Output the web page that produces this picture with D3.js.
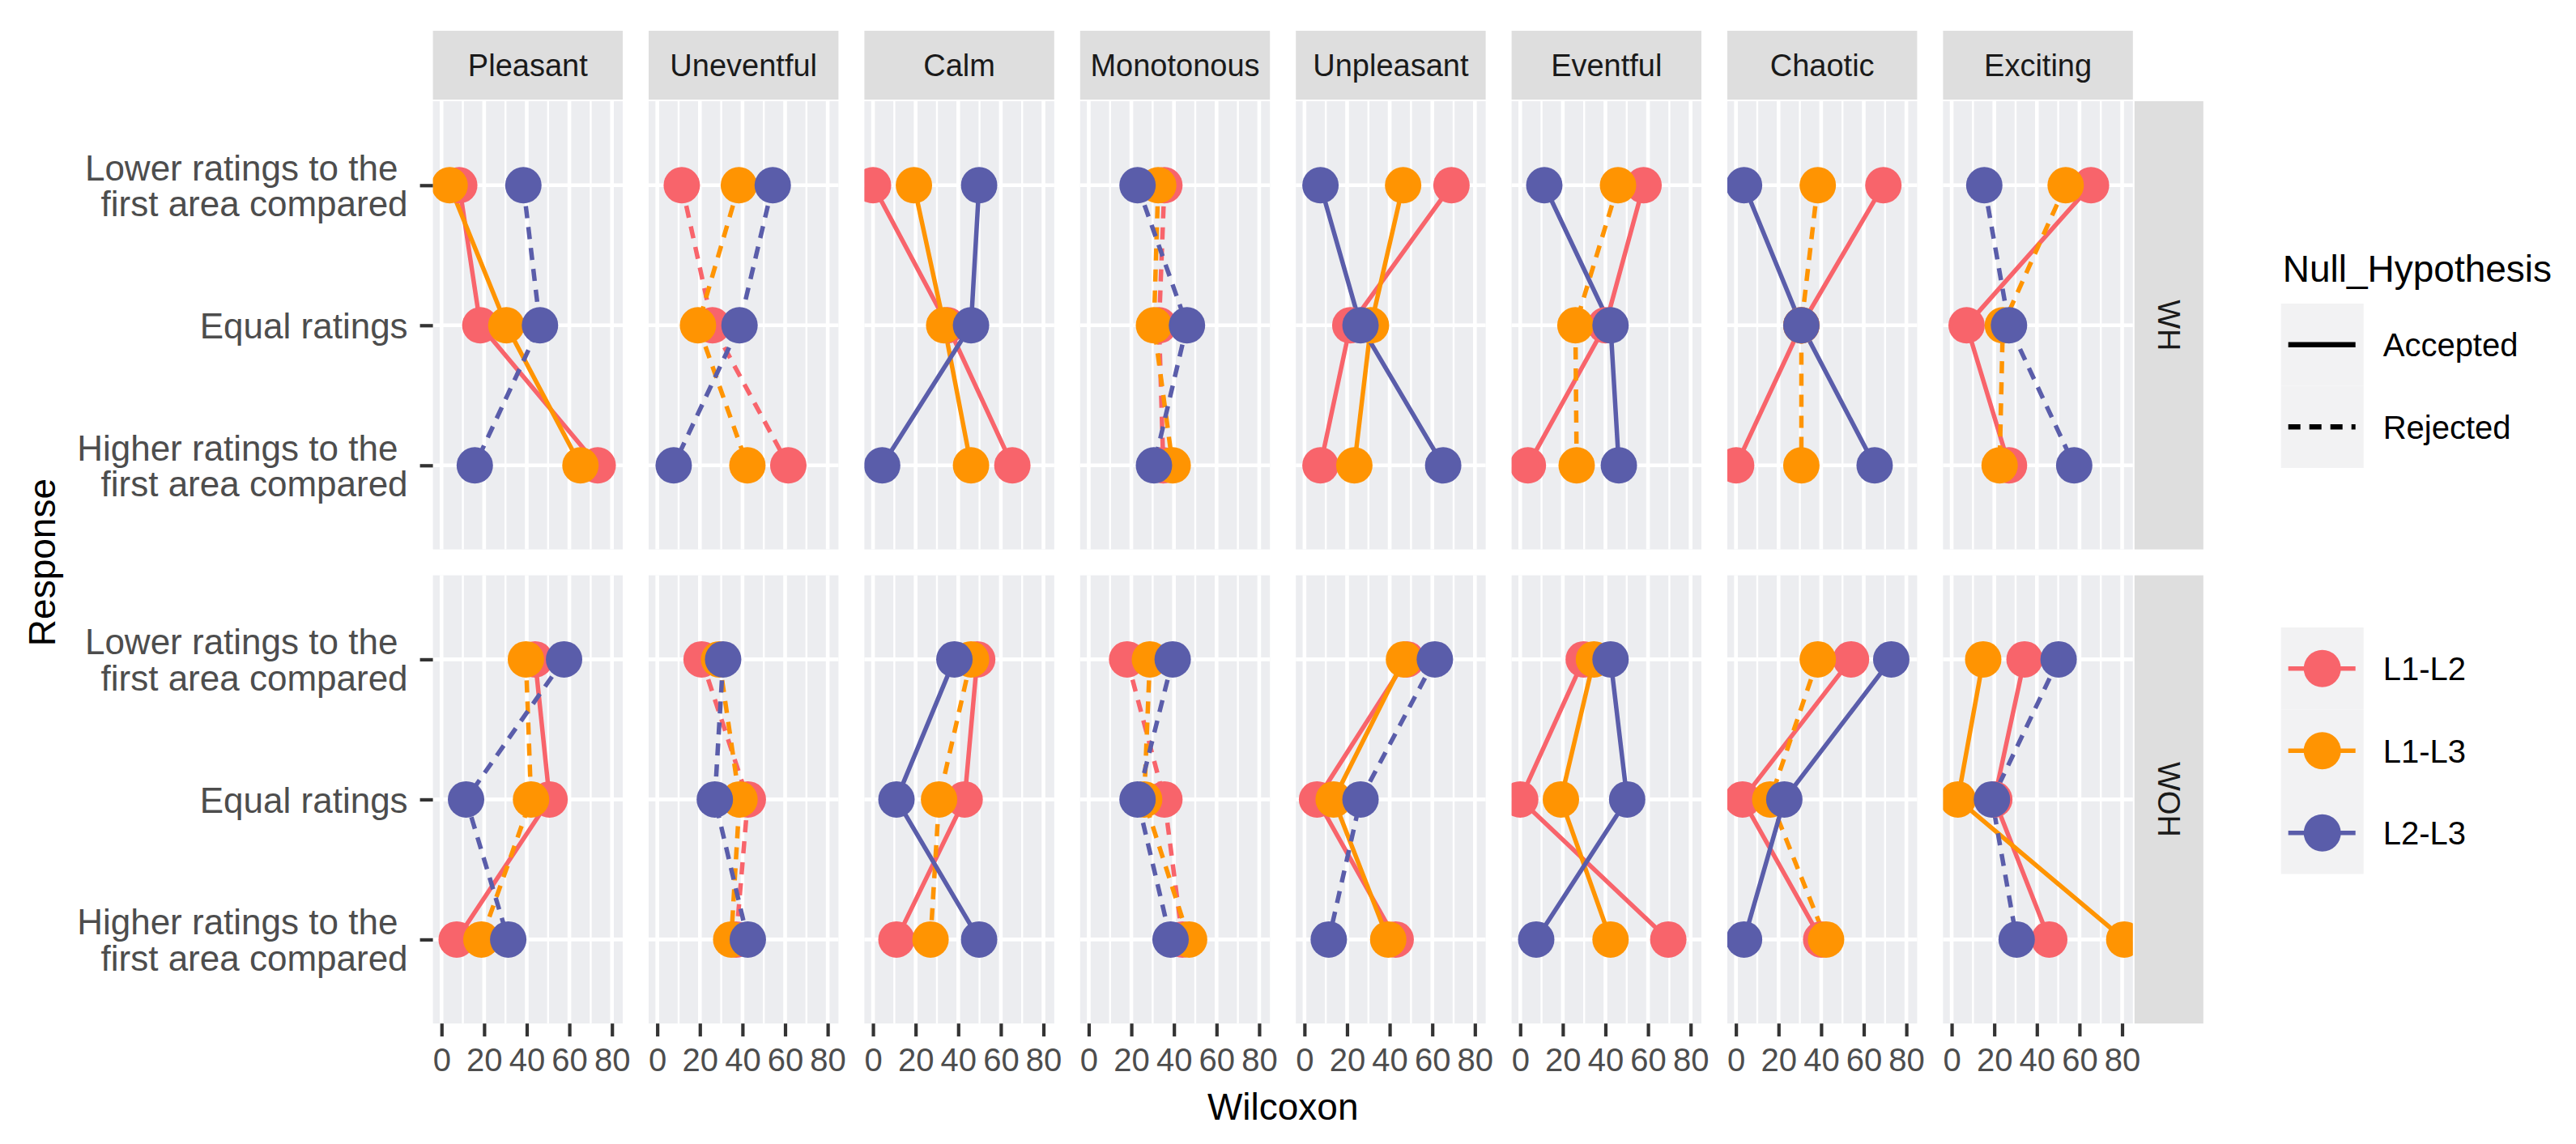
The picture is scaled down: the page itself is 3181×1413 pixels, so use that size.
<!DOCTYPE html>
<html>
<head>
<meta charset="utf-8">
<script src="https://cdn.jsdelivr.net/npm/d3@7"></script>
<style>
  html, body { margin: 0; padding: 0; background: #ffffff; }
  svg { display: block; font-family: "Liberation Sans", Arial, Helvetica, sans-serif; }
</style>
</head>
<body>
<script>
// ---------------- DATA ----------------
const attributes = ["Pleasant","Uneventful","Calm","Monotonous","Unpleasant","Eventful","Chaotic","Exciting"];
const conditions = ["WH","WOH"];
const responses = ["Lower ratings to the\u00A0\nfirst area compared","Equal ratings","Higher ratings to the\u00A0\nfirst area compared"];
const pairs = ["L1-L2","L1-L3","L2-L3"];
const hypotheses = ["Accepted","Rejected"];
const xTicks = [0,20,40,60,80];
const xDataRange = [0,81];

// Wilcoxon values per attribute: [Lower, Equal, Higher]
const whL1L2 = [[8.3,18.2,73.3],[11.5,25.9,61.5],[0,35,65.4],[35.5,33,35],[69,21.5,7.5],[57.9,40,3.6],[69.2,30.7,0.1],[65.4,7,26.9]];
const whL1L3 = [[3.8,30.4,65.2],[38.3,19.1,42.3],[19.2,33.4,46],[32.6,30.6,39.4],[46.3,31.2,23.4],[45.9,25.9,26.5],[38.4,30.7,30.7],[53.5,24,22.5]];
const whL2L3 = [[38.4,46.2,15.6],[54.2,38.6,7.7],[49.8,46,4.3],[22.9,46.1,30.6],[7.5,26.3,65.1],[11.3,42.4,46.3],[3.8,30.7,65.1],[15.3,26.9,57.5]];
const wohL1L2 = [[43.9,50.7,7.1],[20.8,42.5,37],[48.9,43,11],[18,35.5,44],[48,5.9,42.8],[29.8,0,69.5],[54,3.1,40],[34.2,20,45.8]];
const wohL1L3 = [[39.6,42,18.7],[29,38.6,34.7],[46,31,27],[28.7,26,47.1],[46.7,13.7,39.3],[34.6,19.1,42.4],[38.4,16.1,42.3],[14.8,2.9,81]];
const wohL2L3 = [[57.5,11.5,31.3],[30.9,27,42.5],[38.2,11,49.8],[39.4,22.9,38.4],[61.2,26.3,11.4],[42.4,50.2,7.5],[72.9,22.7,3.8],[50.2,18.9,30.5]];

// Null hypothesis per attribute (A = Accepted, R = Rejected)
const whL1L2Hyp = ["A","R","A","R","A","A","A","A"];
const whL1L3Hyp = ["A","R","A","R","A","R","R","R"];
const whL2L3Hyp = ["R","R","A","R","A","A","A","R"];
const wohL1L2Hyp = ["A","R","A","R","A","A","A","A"];
const wohL1L3Hyp = ["R","R","R","R","A","A","R","A"];
const wohL2L3Hyp = ["R","R","A","R","R","A","A","R"];

// ---------------- BUILD TABLE ----------------
const valueSets = { WH: [whL1L2, whL1L3, whL2L3], WOH: [wohL1L2, wohL1L3, wohL2L3] };
const hypSets = { WH: [whL1L2Hyp, whL1L3Hyp, whL2L3Hyp], WOH: [wohL1L2Hyp, wohL1L3Hyp, wohL2L3Hyp] };
const series = [];
conditions.forEach(cond => {
  attributes.forEach((attr, ai) => {
    pairs.forEach((pair, pi) => {
      const vals = valueSets[cond][pi][ai];
      series.push({
        cond, attr, pair,
        hyp: hypSets[cond][pi][ai] === "A" ? "Accepted" : "Rejected",
        points: responses.map((r, ri) => ({ response: r, value: vals[ri] }))
      });
    });
  });
});

// ---------------- LAYOUT / STYLE ----------------
const width = 3181, height = 1413;
const panelW = 234.4, panelH = 553.6, gap = 32;
const left0 = 534.6, top0 = 125;
const stripH = 85, stripGap = 2;
const colors = d3.scaleOrdinal().domain(pairs).range(["#F8646B", "#FF9402", "#5A5DAA"]);
const dash = d3.scaleOrdinal().domain(hypotheses).range(["none", "15,11"]);
const lineW = 5.5, pointR = 22.5;
const panelBg = "#ECEDF0", stripBg = "#DEDEDE";

const svg = d3.select("body").append("svg").attr("width", width).attr("height", height);
svg.append("rect").attr("width", width).attr("height", height).attr("fill", "#ffffff");

const pad = (xDataRange[1] - xDataRange[0]) * 0.05;
const x = d3.scaleLinear().domain([xDataRange[0] - pad, xDataRange[1] + pad]).range([0, panelW]);
const y = d3.scalePoint().domain(responses).range([0, panelH]).padding(0.6);
const minorTicks = d3.pairs(xTicks).map(([a, b]) => (a + b) / 2);

const line = d3.line().x(d => x(d.value)).y(d => y(d.response));

conditions.forEach((cond, ci) => {
  const py = top0 + ci * (panelH + gap);
  attributes.forEach((attr, ai) => {
    const px = left0 + ai * (panelW + gap);
    const g = svg.append("g").attr("transform", `translate(${px},${py})`);
    const clipId = `clip-${ci}-${ai}`;
    g.append("clipPath").attr("id", clipId).append("rect").attr("width", panelW).attr("height", panelH);
    g.append("rect").attr("width", panelW).attr("height", panelH).attr("fill", panelBg);
    // grid
    g.selectAll(".minor").data(minorTicks).join("line")
      .attr("x1", d => x(d)).attr("x2", d => x(d)).attr("y1", 0).attr("y2", panelH)
      .attr("stroke", "#ffffff").attr("stroke-width", 2.4);
    g.selectAll(".major").data(xTicks).join("line")
      .attr("x1", d => x(d)).attr("x2", d => x(d)).attr("y1", 0).attr("y2", panelH)
      .attr("stroke", "#ffffff").attr("stroke-width", 4.6);
    g.selectAll(".hmajor").data(responses).join("line")
      .attr("x1", 0).attr("x2", panelW).attr("y1", d => y(d)).attr("y2", d => y(d))
      .attr("stroke", "#ffffff").attr("stroke-width", 4.6);

    const data = series.filter(s => s.cond === cond && s.attr === attr);
    const content = g.append("g").attr("clip-path", `url(#${clipId})`);
    content.selectAll("path.ln").data(data).join("path")
      .attr("class", "ln")
      .attr("d", d => line(d.points))
      .attr("fill", "none")
      .attr("stroke", d => colors(d.pair))
      .attr("stroke-width", lineW)
      .attr("stroke-dasharray", d => dash(d.hyp))
      .attr("stroke-linecap", "butt");
    data.forEach(s => {
      content.selectAll(null).data(s.points).join("circle")
        .attr("cx", d => x(d.value)).attr("cy", d => y(d.response))
        .attr("r", pointR).attr("fill", colors(s.pair));
    });

    // top strips
    if (ci === 0) {
      svg.append("rect").attr("x", px).attr("y", top0 - stripGap - stripH)
        .attr("width", panelW).attr("height", stripH).attr("fill", stripBg);
      svg.append("text").attr("x", px + panelW / 2).attr("y", top0 - stripGap - stripH / 2)
        .attr("dy", "0.36em").attr("text-anchor", "middle")
        .attr("font-size", 38).attr("fill", "#1A1A1A").text(attr);
    }
    // x axis on bottom row
    if (ci === conditions.length - 1) {
      const ax = g.append("g").attr("transform", `translate(0,${panelH})`)
        .call(d3.axisBottom(x).tickValues(xTicks).tickSize(16).tickPadding(14));
      ax.select(".domain").remove();
      ax.selectAll(".tick line").attr("stroke", "#333333").attr("stroke-width", 4.2);
      ax.selectAll(".tick text").attr("font-size", 40).attr("fill", "#4D4D4D")
        .attr("font-family", "Liberation Sans, Arial, sans-serif");
    }
    // y axis on first column
    if (ai === 0) {
      const ay = g.append("g").call(d3.axisLeft(y).tickSize(16).tickPadding(15));
      ay.select(".domain").remove();
      ay.selectAll(".tick line").attr("stroke", "#333333").attr("stroke-width", 4.2);
      ay.selectAll(".tick text").each(function (d) {
        const t = d3.select(this);
        t.text(null).attr("font-size", 44).attr("fill", "#4D4D4D")
          .attr("font-family", "Liberation Sans, Arial, sans-serif").attr("dy", null);
        const lines = d.split("\n");
        const lh = 44.5;
        const x0 = +t.attr("x");
        lines.forEach((ln, i) => {
          t.append("tspan").attr("x", x0)
            .attr("y", (i - (lines.length - 1) / 2) * lh + 15.7)
            .text(ln);
        });
      });
    }
  });
  // right strip
  const sx = left0 + attributes.length * (panelW + gap) - gap + stripGap;
  svg.append("rect").attr("x", sx).attr("y", py).attr("width", stripH).attr("height", panelH).attr("fill", stripBg);
  svg.append("text")
    .attr("transform", `translate(${sx + stripH / 2},${py + panelH / 2}) rotate(90)`)
    .attr("dy", "0.36em").attr("text-anchor", "middle")
    .attr("font-size", 38).attr("fill", "#1A1A1A").text(cond);
});

// axis titles
const panelsRight = left0 + attributes.length * (panelW + gap) - gap;
svg.append("text").attr("x", (left0 + panelsRight) / 2).attr("y", 1383)
  .attr("text-anchor", "middle").attr("font-size", 46).attr("fill", "#000").text("Wilcoxon");
svg.append("text")
  .attr("transform", `translate(68,${top0 + (2 * panelH + gap) / 2}) rotate(-90)`)
  .attr("text-anchor", "middle").attr("font-size", 46).attr("fill", "#000").text("Response");

// legends
const legX = 2816.7, keyW = 102, keyH = 101.5;
svg.append("text").attr("x", legX + 2).attr("y", 348).attr("font-size", 46).attr("fill", "#000").text("Null_Hypothesis");
const lg1 = svg.append("g").attr("transform", `translate(${legX},375)`);
hypotheses.forEach((h, i) => {
  lg1.append("rect").attr("x", 0).attr("y", i * keyH).attr("width", keyW).attr("height", keyH).attr("fill", "#F2F2F3");
  lg1.append("line").attr("x1", 9).attr("x2", 92).attr("y1", i * keyH + keyH / 2).attr("y2", i * keyH + keyH / 2)
    .attr("stroke", "#000").attr("stroke-width", lineW + 1).attr("stroke-dasharray", dash(h));
  lg1.append("text").attr("x", 126).attr("y", i * keyH + keyH / 2).attr("dy", "0.36em")
    .attr("font-size", 40).attr("fill", "#000").text(h);
});
const lg2 = svg.append("g").attr("transform", `translate(${legX},775)`);
pairs.forEach((p, i) => {
  lg2.append("rect").attr("x", 0).attr("y", i * keyH).attr("width", keyW).attr("height", keyH).attr("fill", "#F2F2F3");
  lg2.append("line").attr("x1", 9).attr("x2", 92).attr("y1", i * keyH + keyH / 2).attr("y2", i * keyH + keyH / 2)
    .attr("stroke", colors(p)).attr("stroke-width", lineW);
  lg2.append("circle").attr("cx", keyW / 2).attr("cy", i * keyH + keyH / 2).attr("r", 23).attr("fill", colors(p));
  lg2.append("text").attr("x", 126).attr("y", i * keyH + keyH / 2).attr("dy", "0.36em")
    .attr("font-size", 40).attr("fill", "#000").text(p);
});
</script>
</body>
</html>
